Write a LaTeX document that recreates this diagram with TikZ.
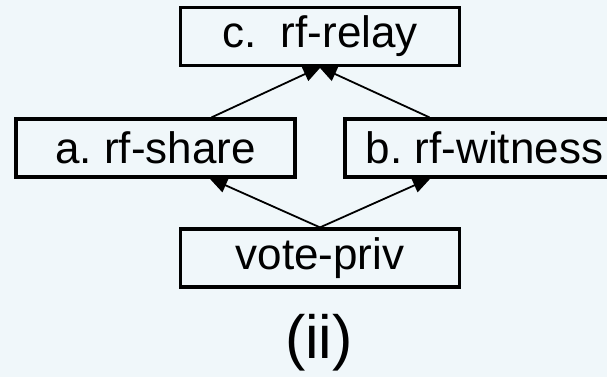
\documentclass[tikz,border=0pt]{standalone}
\usepackage{fontspec}
\setmainfont{Liberation Sans}
\usetikzlibrary{positioning, arrows.meta}

\definecolor{paleblue}{RGB}{240,247,250}

\begin{document}
\begin{tikzpicture}[
    x=1pt, y=-1pt,
    % Styles
    box/.style={ % protocol box
        rectangle,
        draw,
        line width=3.2pt,
        minimum width=279pt,
        minimum height=58pt,
        inner sep=0pt,
        font=\fontsize{44}{50}\selectfont
    },
    arrow/.style={
        -{Triangle[length=18pt, width=15pt]},
        line width=1.8pt,
        shorten >=-1.5pt
    }
]

    % Background and frame
    \fill[paleblue] (0,0) rectangle (607,377);
    \useasboundingbox (0,0) rectangle (607,377);
    \clip (0,0) rectangle (607,377);

    % Boxes
    \node[box] (relay) at (320,36.5) {c.\ \ rf-relay};
    \node[box] (share) at (155.5,148) {a.\ rf-share};
    \node[box] (witness) at (484.5,148) {b.\ rf-witness};
    \node[box] (vote) at (320,258) {vote-priv};

    % Arrows into the relay
    \draw[arrow] ([xshift=56pt]share.north) -- (relay.south);
    \draw[arrow] ([xshift=-55pt]witness.north) -- (relay.south);

    % Arrows from vote-priv
    \draw[arrow] (vote.north) -- ([xshift=55pt]share.south);
    \draw[arrow] (vote.north) -- ([xshift=-55pt]witness.south);

    % Caption
    \node[font=\fontsize{61}{66}\selectfont] (caption) at (319,343) {(ii)};
\end{tikzpicture}
\end{document}
